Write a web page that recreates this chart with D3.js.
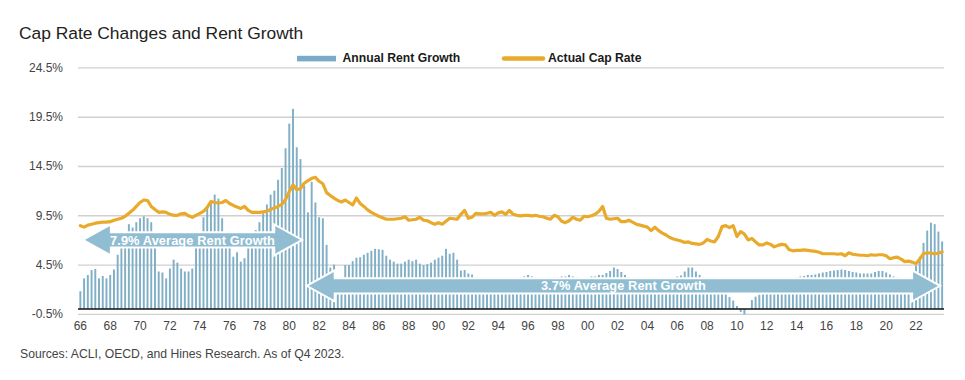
<!DOCTYPE html>
<html><head><meta charset="utf-8">
<script src="https://cdn.jsdelivr.net/npm/d3@7"></script>
<style>
body{margin:0;background:#fff;}
svg{display:block;font-family:"Liberation Sans",Arial,Helvetica,sans-serif;}
</style>
</head><body>
<svg id="chart" width="965" height="380"></svg>
<script>
// ---------------- DATA ----------------
const firstYear = 1966, lastYear = 2023;
const quarters = [];
for (let yr = firstYear; yr <= lastYear; yr++) for (let q = 1; q <= 4; q++) quarters.push(yr + "Q" + q);

const yTicks = [-0.5, 4.5, 9.5, 14.5, 19.5, 24.5];
const xTickYears = [1966,1968,1970,1972,1974,1976,1978,1980,1982,1984,1986,1988,1990,1992,1994,1996,1998,2000,2002,2004,2006,2008,2010,2012,2014,2016,2018,2020,2022];
const xTickLabels = ["66","68","70","72","74","76","78","80","82","84","86","88","90","92","94","96","98","00","02","04","06","08","10","12","14","16","18","20","22"];

// Annual rent growth (%), quarterly 1966Q1 - 2023Q4
const rentGrowth = [
 1.8, 3.1, 3.45, 3.95, 4.05, 3.1, 3.35, 3.1, 3.45, 4.0,
 5.5, 6.6, 7.6, 8.6, 8.25, 8.8, 9.2, 9.4, 9.2, 8.8,
 7.0, 3.8, 3.7, 3.1, 4.1, 5.0, 4.7, 4.1, 3.8, 3.8,
 4.1, 6.5, 7.6, 9.3, 10.4, 10.9, 11.6, 11.2, 9.2, 7.2,
 6.4, 5.3, 5.75, 4.8, 5.15, 6.3, 7.8, 8.0, 8.8, 9.7,
 10.6, 11.6, 12.0, 13.1, 14.3, 16.3, 18.8, 20.3, 16.4, 15.2,
 12.5, 9.8, 12.9, 10.8, 9.3, 9.2, 6.5, 4.2, 4.5, 3.0,
 3.2, 4.45, 4.45, 4.85, 5.2, 5.25, 5.5, 5.7, 5.9, 6.1,
 6.05, 6.0, 5.4, 5.0, 4.8, 4.6, 4.6, 4.8, 5.0, 4.85,
 5.0, 4.6, 4.45, 4.55, 4.7, 5.0, 5.2, 5.4, 6.1, 5.6,
 5.7, 5.0, 3.9, 3.95, 3.6, 3.5, 3.2, 3.0, 2.8, 2.6,
 2.5, 2.4, 2.3, 2.4, 2.5, 2.7, 2.9, 3.1, 3.2, 3.3,
 3.45, 3.3, 3.2, 3.1, 3.0, 3.0, 3.1, 3.2, 3.2, 3.3,
 3.3, 3.45, 3.3, 3.2, 3.1, 3.1, 3.2, 3.3, 3.3, 3.45,
 3.45, 3.65, 3.85, 4.2, 4.05, 3.75, 3.45, 3.2, 3.0, 2.8,
 2.6, 2.5, 2.4, 2.3, 2.3, 2.4, 2.5, 2.7, 2.9, 3.1,
 3.3, 3.4, 3.8, 4.2, 4.2, 3.8, 3.45, 3.2, 3.0, 2.6,
 2.3, 2.0, 1.8, 1.5, 1.2, 0.85, 0.3, -0.3, -0.55, 0.0,
 0.9, 1.25, 1.45, 1.7, 1.9, 2.0, 2.2, 2.4, 2.6, 2.8,
 3.0, 3.1, 3.2, 3.3, 3.35, 3.45, 3.45, 3.5, 3.6, 3.7,
 3.75, 3.85, 3.9, 3.95, 4.0, 3.95, 3.85, 3.75, 3.7, 3.6,
 3.6, 3.6, 3.6, 3.75, 3.85, 3.85, 3.7, 3.5, 3.3, 3.2,
 3.0, 2.8, 2.7, 3.2, 4.4, 5.3, 6.7, 7.95, 8.75, 8.6,
 7.85, 6.85
];

// Actual cap rate (%), quarterly 1966Q1 - 2023Q4
const capRate = [
 8.45, 8.3, 8.5, 8.6, 8.7, 8.75, 8.8, 8.8, 8.85, 9.0,
 9.1, 9.2, 9.4, 9.7, 10.0, 10.4, 10.8, 11.05, 11.0, 10.4,
 10.1, 9.8, 9.85, 9.8, 9.6, 9.5, 9.5, 9.65, 9.7, 9.45,
 9.3, 9.5, 9.7, 9.9, 10.3, 10.9, 10.8, 10.75, 10.8, 11.0,
 10.7, 10.5, 10.35, 10.2, 10.4, 10.0, 9.8, 9.8, 9.8, 9.85,
 9.9, 10.1, 10.25, 10.4, 10.6, 11.1, 11.9, 12.6, 12.1, 12.2,
 12.75, 13.0, 13.25, 13.35, 12.95, 12.7, 11.8, 11.5, 11.25, 11.0,
 10.85, 11.05, 10.8, 10.55, 11.25, 10.7, 10.4, 10.05, 9.8, 9.6,
 9.4, 9.25, 9.1, 9.1, 9.1, 9.15, 9.2, 9.35, 9.0, 9.05,
 9.1, 9.3, 9.0, 8.95, 8.75, 8.6, 8.75, 8.6, 8.9, 9.2,
 9.15, 9.1, 9.6, 10.0, 9.2, 9.3, 9.7, 9.65, 9.65, 9.7,
 9.8, 9.5, 9.75, 9.85, 9.6, 10.0, 9.6, 9.5, 9.45, 9.5,
 9.5, 9.45, 9.5, 9.4, 9.35, 9.2, 9.1, 9.5, 9.35, 8.9,
 8.75, 8.95, 9.3, 9.1, 9.0, 9.4, 9.35, 9.45, 9.6, 9.9,
 10.4, 9.2, 9.1, 9.15, 9.2, 8.85, 8.85, 9.0, 8.8, 8.6,
 8.5, 8.4, 8.3, 7.95, 8.3, 7.95, 7.7, 7.5, 7.25, 7.1,
 7.0, 6.9, 6.75, 6.8, 6.65, 6.6, 6.55, 6.7, 7.05, 6.9,
 6.8, 7.35, 8.35, 8.45, 8.25, 8.45, 7.35, 7.85, 7.6, 7.0,
 7.15, 6.8, 6.5, 6.5, 6.7, 6.55, 6.3, 6.45, 6.55, 6.5,
 6.0, 5.9, 5.95, 5.95, 6.0, 5.95, 5.9, 5.85, 5.75, 5.6,
 5.6, 5.6, 5.6, 5.55, 5.6, 5.4, 5.7, 5.55, 5.5, 5.45,
 5.45, 5.4, 5.5, 5.45, 5.5, 5.5, 5.4, 5.1, 5.2, 5.25,
 5.05, 4.8, 4.85, 4.75, 4.6, 5.05, 5.6, 5.7, 5.65, 5.6,
 5.65, 5.8
];

// Average rent growth annotations (period start/end quarter, label, level)
const avgLabels = ["7.9% Average Rent Growth", "3.7% Average Rent Growth"];
const avgStart = ["1966Q1", "1981Q1"];
const avgEnd = ["1981Q1", "2023Q4"];
const avgLevel = [7.0, 2.35];

const title = "Cap Rate Changes and Rent Growth";
const source = "Sources: ACLI, OECD, and Hines Research. As of Q4 2023.";
const seriesNames = ["Annual Rent Growth", "Actual Cap Rate"];

// ---------------- CHART ----------------
const svg = d3.select("#chart");
const plotL = 78, plotR = 944, plotT = 67.4, plotB = 313.9;
const barBlue = "#80afc6", arrowBlue = "#90bdd1", gold = "#e9aa2c";

const x = d3.scaleBand().domain(quarters).range([78.5, 944]).padding(0);
const xc = q => x(q) + x.bandwidth() / 2;
const y = d3.scaleLinear().domain([-0.5, 24.5]).range([plotB, plotT]);

// title
svg.append("text").attr("x", 19).attr("y", 39).attr("font-size", 17.4)
  .attr("fill", "#222").text(title);

// gridlines + y labels
const yAxis = d3.axisLeft(y).tickValues(yTicks).tickSize(-(plotR - plotL))
  .tickFormat(d => d.toFixed(1) + "%").tickPadding(15);
const gy = svg.append("g").attr("transform", `translate(${plotL},0)`).call(yAxis);
gy.select(".domain").remove();
gy.selectAll(".tick line").attr("stroke", "#d0d0d0").attr("stroke-width", 1.4);
gy.selectAll(".tick text").attr("font-size", 12).attr("fill", "#444")
  .attr("font-family", '"Liberation Sans",Arial,sans-serif');

// bars
const bw = x.bandwidth() * 0.52;
svg.append("g").selectAll("rect").data(rentGrowth).join("rect")
  .attr("x", (d, i) => xc(quarters[i]) - bw / 2)
  .attr("width", bw)
  .attr("y", d => y(Math.max(0, d)))
  .attr("height", d => Math.abs(y(d) - y(0)))
  .attr("fill", barBlue);

// zero line
svg.append("line").attr("x1", plotL).attr("x2", plotR)
  .attr("y1", y(0)).attr("y2", y(0)).attr("stroke", "#111").attr("stroke-width", 1.5);

// double arrows
const headLen = 28, headH = 15.5, shaftH = 7.6;
avgLabels.forEach((lab, k) => {
  const x0 = xc(avgStart[k]) + 2.5, x1 = xc(avgEnd[k]) - 2, cy = y(avgLevel[k]);
  const p = d3.path();
  p.moveTo(x0, cy);
  p.lineTo(x0 + headLen, cy - headH);
  p.lineTo(x0 + headLen, cy - shaftH);
  p.lineTo(x1 - headLen, cy - shaftH);
  p.lineTo(x1 - headLen, cy - headH);
  p.lineTo(x1, cy);
  p.lineTo(x1 - headLen, cy + headH);
  p.lineTo(x1 - headLen, cy + shaftH);
  p.lineTo(x0 + headLen, cy + shaftH);
  p.lineTo(x0 + headLen, cy + headH);
  p.closePath();
  svg.append("path").attr("d", p.toString()).attr("fill", arrowBlue)
    .attr("stroke", "#fff").attr("stroke-width", 2).attr("stroke-linejoin", "miter");
  svg.append("text").attr("x", (x0 + x1) / 2).attr("y", cy).attr("dy", "0.36em")
    .attr("text-anchor", "middle").attr("font-size", 12.8).attr("font-weight", "bold")
    .attr("fill", "#fff").attr("letter-spacing", 0.1).text(lab);
});

// cap rate line
const line = d3.line().x((d, i) => xc(quarters[i])).y(d => y(d));
svg.append("path").datum(capRate).attr("d", line).attr("fill", "none")
  .attr("stroke", gold).attr("stroke-width", 3.2).attr("stroke-linejoin", "round")
  .attr("stroke-linecap", "round");

// x axis labels
const xAxis = d3.axisBottom(x).tickValues(xTickYears.map(yr => yr + "Q1"))
  .tickFormat((d, i) => xTickLabels[i]).tickSize(0).tickPadding(8);
const gx = svg.append("g").attr("transform", `translate(0,${plotB})`).call(xAxis);
gx.select(".domain").remove();
gx.selectAll(".tick text").attr("font-size", 12).attr("fill", "#444")
  .attr("font-family", '"Liberation Sans",Arial,sans-serif');

// legend
const lg = svg.append("g");
lg.append("rect").attr("x", 297).attr("y", 55.8).attr("width", 39).attr("height", 5.6).attr("fill", "#78abc5");
lg.append("text").attr("x", 342.5).attr("y", 61.5).attr("font-size", 12.2).attr("font-weight", "bold")
  .attr("fill", "#1a1a1a").text(seriesNames[0]);
lg.append("line").attr("x1", 504).attr("x2", 543).attr("y1", 58.4).attr("y2", 58.4)
  .attr("stroke", gold).attr("stroke-width", 4.5).attr("stroke-linecap", "round");
lg.append("text").attr("x", 548).attr("y", 61.5).attr("font-size", 12.2).attr("font-weight", "bold")
  .attr("fill", "#1a1a1a").text(seriesNames[1]);

// source
svg.append("text").attr("x", 20).attr("y", 357.5).attr("font-size", 12.2)
  .attr("fill", "#444").text(source);
</script>
</body></html>
